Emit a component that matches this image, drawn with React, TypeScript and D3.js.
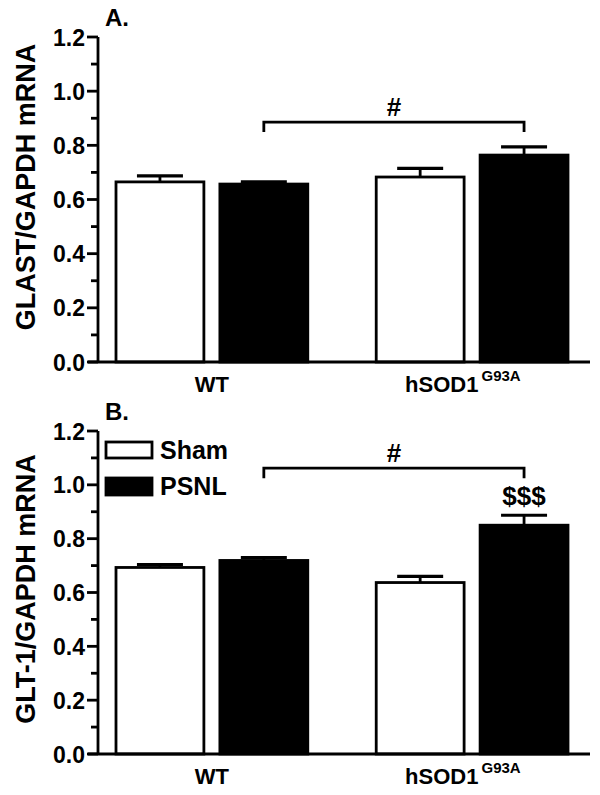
import React from "react";
import * as d3 from "d3";

const groups = ["WT", "hSOD1"];
const series = ["Sham", "PSNL"];

const glastSham = [0.665, 0.683];
const glastShamErr = [0.022, 0.032];
const glastPSNL = [0.657, 0.764];
const glastPSNLErr = [0.008, 0.030];
const glastBracket = 0.886;

const glt1Sham = [0.693, 0.637];
const glt1ShamErr = [0.011, 0.023];
const glt1PSNL = [0.719, 0.85];
const glt1PSNLErr = [0.011, 0.037];
const glt1Bracket = 1.062;

const majorTicks = [0, 0.2, 0.4, 0.6, 0.8, 1.0, 1.2];
const minorTicks = [0.1, 0.3, 0.5, 0.7, 0.9, 1.1];

const FONT = "'Liberation Sans', Arial, Helvetica, sans-serif";
const SW = 2.8;

const xGroup = d3.scaleBand<string>().domain(groups).range([116, 568]).paddingInner(0.263).paddingOuter(0);
const xSeries = d3
  .scaleBand<string>()
  .domain(series)
  .range([0, xGroup.bandwidth()])
  .paddingInner(0.154)
  .paddingOuter(0);

type PanelProps = {
  top: number;
  bottom: number;
  label: string;
  title: string;
  titleY: number;
  sham: number[];
  shamErr: number[];
  psnl: number[];
  psnlErr: number[];
  bracket: number;
  legend?: boolean;
  dollars?: boolean;
};

function Panel(p: PanelProps) {
  const y = d3.scaleLinear().domain([0, 1.2]).range([p.bottom, p.top]);
  const axisX = 98;
  const bars: { g: string; s: string; v: number; e: number }[] = [];
  groups.forEach((g, i) => {
    bars.push({ g, s: "Sham", v: p.sham[i], e: p.shamErr[i] });
    bars.push({ g, s: "PSNL", v: p.psnl[i], e: p.psnlErr[i] });
  });
  const bw = xSeries.bandwidth();
  const cx = (g: string, s: string) => (xGroup(g) as number) + (xSeries(s) as number) + bw / 2;
  const bL = cx("WT", "PSNL");
  const bR = cx("hSOD1", "PSNL");
  const by = y(p.bracket);
  const capHalf = 23;
  return (
    <g>
      <text x={105} y={p.top - 11} fontFamily={FONT} fontWeight="bold" fontSize={24}>
        {p.label}
      </text>
      <text
        transform={`translate(35,${p.titleY}) rotate(-90)`}
        textAnchor="middle"
        fontFamily={FONT}
        fontWeight="bold"
        fontSize={27}
      >
        {p.title}
      </text>
      {bars.map((b, i) => {
        const x0 = (xGroup(b.g) as number) + (xSeries(b.s) as number);
        const c = x0 + bw / 2;
        return (
          <g key={i}>
            <line x1={c} x2={c} y1={y(b.v)} y2={y(b.v + b.e)} stroke="#000" strokeWidth={SW} />
            <line x1={c - capHalf} x2={c + capHalf} y1={y(b.v + b.e)} y2={y(b.v + b.e)} stroke="#000" strokeWidth={3.2} />
            <rect
              x={x0}
              y={y(b.v)}
              width={bw}
              height={y(0) - y(b.v)}
              fill={b.s === "Sham" ? "#fff" : "#000"}
              stroke="#000"
              strokeWidth={SW}
            />
          </g>
        );
      })}
      <path
        d={`M${bL},${by + 10}V${by}H${bR}V${by + 10}`}
        fill="none"
        stroke="#000"
        strokeWidth={SW}
      />
      <text x={(bL + bR) / 2} y={by - 6} textAnchor="middle" fontFamily={FONT} fontWeight="bold" fontSize={26}>
        #
      </text>
      {p.dollars && (
        <text
          x={bR}
          y={y(p.psnl[1] + p.psnlErr[1]) - 10}
          textAnchor="middle"
          fontFamily={FONT}
          fontWeight="bold"
          fontSize={26}
        >
          $$$
        </text>
      )}
      {/* axes */}
      <line x1={axisX} x2={axisX} y1={y(1.2)} y2={y(0)} stroke="#000" strokeWidth={SW} />
      <line x1={axisX - 10} x2={590} y1={y(0)} y2={y(0)} stroke="#000" strokeWidth={SW} />
      {majorTicks.map((t) => (
        <g key={"M" + t}>
          <line x1={axisX - 11} x2={axisX} y1={y(t)} y2={y(t)} stroke="#000" strokeWidth={SW} />
          <text
            x={85}
            y={y(t) + 8.5}
            textAnchor="end"
            fontFamily={FONT}
            fontWeight="bold"
            fontSize={23}
          >
            {t.toFixed(1)}
          </text>
        </g>
      ))}
      {minorTicks.map((t) => (
        <line key={"m" + t} x1={axisX - 7} x2={axisX} y1={y(t)} y2={y(t)} stroke="#000" strokeWidth={SW} />
      ))}
      <text
        x={(xGroup("WT") as number) + xGroup.bandwidth() / 2}
        y={y(0) + 30}
        textAnchor="middle"
        fontFamily={FONT}
        fontWeight="bold"
        fontSize={22}
      >
        WT
      </text>
      <text
        x={(xGroup("hSOD1") as number) + xGroup.bandwidth() / 2 - 67}
        y={y(0) + 30}
        fontFamily={FONT}
        fontWeight="bold"
        fontSize={22}
      >
        hSOD1
        <tspan dx={3} dy={-11} fontSize={15}>
          G93A
        </tspan>
      </text>
      {p.legend && (
        <g>
          <rect x={106} y={442} width={46} height={16} fill="#fff" stroke="#000" strokeWidth={SW} />
          <text x={160} y={459} fontFamily={FONT} fontWeight="bold" fontSize={25}>
            Sham
          </text>
          <rect x={106} y={478} width={46} height={17} fill="#000" stroke="#000" strokeWidth={SW} />
          <text x={160} y={495} fontFamily={FONT} fontWeight="bold" fontSize={25}>
            PSNL
          </text>
        </g>
      )}
    </g>
  );
}

export default function App() {
  return (
    <svg
      width={600}
      height={795}
      style={{ position: "absolute", left: 0, top: 0, background: "#fff" }}
    >
      <rect width={600} height={795} fill="#fff" />
      <Panel
        top={37}
        bottom={362}
        label="A."
        title="GLAST/GAPDH mRNA"
        titleY={187}
        sham={glastSham}
        shamErr={glastShamErr}
        psnl={glastPSNL}
        psnlErr={glastPSNLErr}
        bracket={glastBracket}
      />
      <Panel
        top={431}
        bottom={754}
        label="B."
        title="GLT-1/GAPDH mRNA"
        titleY={589}
        sham={glt1Sham}
        shamErr={glt1ShamErr}
        psnl={glt1PSNL}
        psnlErr={glt1PSNLErr}
        bracket={glt1Bracket}
        legend
        dollars
      />
    </svg>
  );
}
